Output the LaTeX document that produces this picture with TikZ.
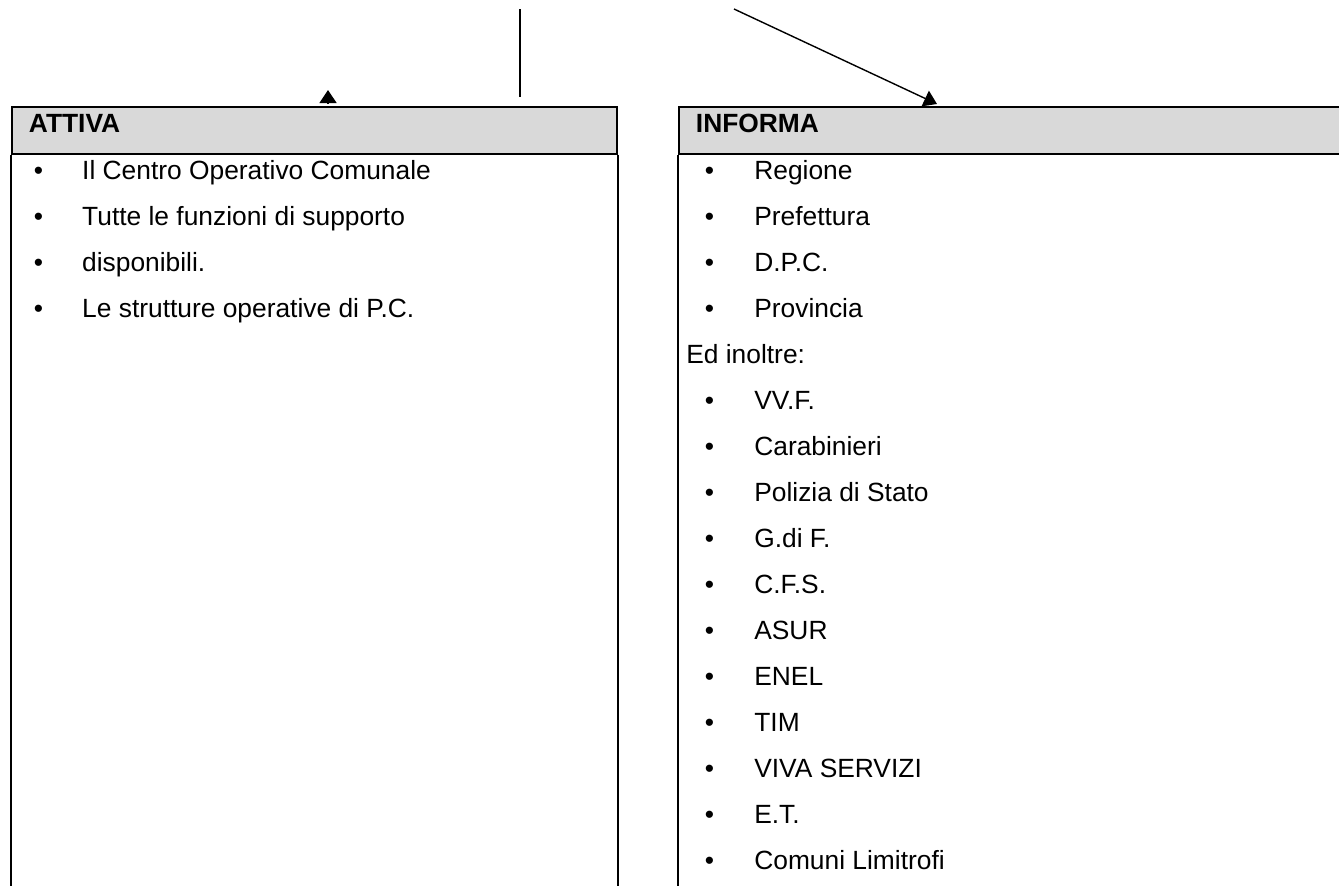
\documentclass[tikz,border=0pt]{standalone}
\usepackage{fontspec}
\setmainfont{Liberation Sans}
\usetikzlibrary{arrows.meta}
\definecolor{grigio}{HTML}{D9D9D9}
\tikzset{
  testa/.style={draw, fill=grigio, line width=1.1pt, anchor=north west, inner xsep=0.34cm,
    minimum height=0.92cm, text height=0.4cm, text depth=0.3cm, align=left, font=\fontsize{15}{18}\selectfont\bfseries},
  voce/.style={anchor=base west, inner sep=0pt, font=\fontsize{15}{18}\selectfont},
  bordo/.style={line width=1.1pt},
  freccia/.style={line width=0.8pt, -{Triangle[length=2.6mm, width=3.4mm]}}
}
\begin{document}
\begin{tikzpicture}[x=0.02cm, y=-0.02cm]
\useasboundingbox (0,0) rectangle (1339,886);
% le due colonne
\node[testa, text width=11.42cm] (attiva) at (11,106) {ATTIVA};
\node[testa, text width=12.54cm] (informa) at (678,106) {INFORMA};
\draw[bordo] (attiva.south west) -- (attiva.south west |- 0,886);
\draw[bordo] (attiva.south east) -- (attiva.south east |- 0,886);
\draw[bordo] (informa.south west) -- (informa.south west |- 0,886);
\draw[bordo] (informa.south east) -- (informa.south east |- 0,886);
% frecce
\coordinate (su) at (520,9);
\coordinate (giu) at (520,97);
\draw[line width=0.85pt] (su) -- (giu);
\coordinate (a0) at (328,104);
\draw[freccia] (a0) -- ++(0,-14) coordinate (a1);
\coordinate (b0) at (734,9);
\coordinate (b1) at (937,104);
\draw[freccia] (b0) -- (b1);
% voci ATTIVA
\foreach \t [count=\i] in {Il Centro Operativo Comunale, Tutte le funzioni di supporto,
    disponibili., Le strutture operative di P.C.}
  \node[voce] (att\i) at (33.4,{179+(\i-1)*46}) {\makebox[0.97cm][l]{•}\t};
% voci INFORMA
\foreach \t [count=\i] in {Regione, Prefettura, D.P.C., Provincia}
  \node[voce] (inf\i) at (704.5,{179+(\i-1)*46}) {\makebox[0.99cm][l]{•}\t};
\node[voce] (inoltre) at (686,{179+4*46}) {Ed inoltre:};
\foreach \t [count=\i] in {VV.F., Carabinieri, Polizia di Stato, G.di F., C.F.S., ASUR,
    ENEL, TIM, VIVA SERVIZI, E.T., Comuni Limitrofi}
  \node[voce] (alt\i) at (704.5,{179+(\i+4)*46}) {\makebox[0.99cm][l]{•}\t};
\end{tikzpicture}
\end{document}
